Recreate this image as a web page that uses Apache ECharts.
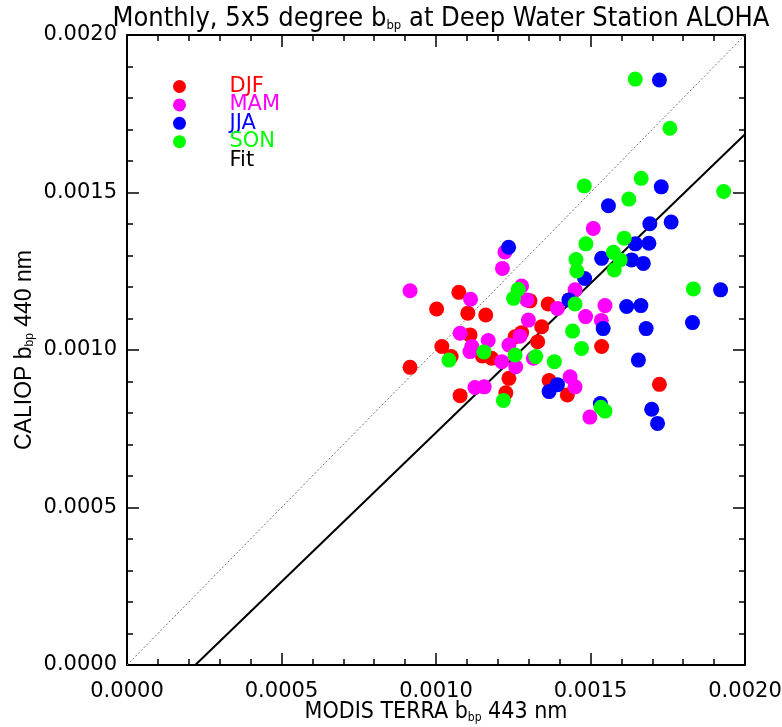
<!DOCTYPE html>
<html>
<head>
<meta charset="utf-8">
<script src="https://cdn.jsdelivr.net/npm/echarts@6/dist/echarts.min.js"></script>
<style>
  html, body { margin: 0; padding: 0; background: #fff; }
  #main { width: 782px; height: 727px; }
</style>
</head>
<body>
<div id="main"></div>
<script>
// seasonal points, MODIS (x) vs CALIOP (y) bbp
var djfX = [0.001074, 0.001002, 0.001103, 0.001161, 0.001304, 0.001363, 0.001342, 0.001329, 0.001110, 0.001019, 0.001049, 0.001150, 0.001180, 0.001256, 0.001277, 0.000916, 0.001236, 0.001366, 0.001425, 0.001078, 0.001226, 0.001536, 0.001723];
var djfY = [0.001183, 0.001130, 0.001117, 0.001111, 0.001156, 0.001146, 0.001074, 0.001026, 0.001048, 0.001011, 0.000979, 0.000981, 0.000974, 0.001042, 0.001055, 0.000945, 0.000910, 0.000903, 0.000857, 0.000855, 0.000864, 0.001011, 0.000891];

var mamX = [0.000916, 0.001112, 0.001215, 0.001223, 0.001277, 0.001294, 0.001393, 0.001450, 0.001299, 0.001078, 0.001169, 0.001116, 0.001110, 0.001213, 0.001236, 0.001272, 0.001258, 0.001315, 0.001434, 0.001450, 0.001126, 0.001156, 0.001509, 0.001547, 0.001484, 0.001535, 0.001498];
var mamY = [0.001188, 0.001161, 0.001259, 0.001311, 0.001203, 0.001159, 0.001132, 0.001191, 0.001095, 0.001053, 0.001030, 0.001011, 0.000995, 0.000963, 0.001016, 0.001044, 0.000947, 0.000974, 0.000915, 0.000883, 0.000881, 0.000883, 0.001386, 0.001141, 0.001106, 0.001094, 0.000787];

var jjaX = [0.001723, 0.001729, 0.001558, 0.001692, 0.001761, 0.001645, 0.001689, 0.001235, 0.001536, 0.001633, 0.001671, 0.001481, 0.001430, 0.001921, 0.001617, 0.001663, 0.001541, 0.001680, 0.001830, 0.001655, 0.001393, 0.001366, 0.001532, 0.001698, 0.001717];
var jjaY = [0.001857, 0.001518, 0.001458, 0.001401, 0.001406, 0.001337, 0.001339, 0.001326, 0.001291, 0.001286, 0.001275, 0.001227, 0.001159, 0.001191, 0.001138, 0.001141, 0.001068, 0.001068, 0.001087, 0.000968, 0.000890, 0.000868, 0.000830, 0.000812, 0.000767];

var sonX = [0.001645, 0.001757, 0.001480, 0.001664, 0.001931, 0.001624, 0.001609, 0.001485, 0.001574, 0.001596, 0.001577, 0.001453, 0.001456, 0.001833, 0.001266, 0.001251, 0.001450, 0.001442, 0.001471, 0.001323, 0.001383, 0.001256, 0.001042, 0.001155, 0.001218, 0.001534, 0.001547];
var sonY = [0.001860, 0.001704, 0.001521, 0.001545, 0.001503, 0.001479, 0.001355, 0.001337, 0.001310, 0.001286, 0.001254, 0.001287, 0.001251, 0.001194, 0.001193, 0.001164, 0.001146, 0.001060, 0.001005, 0.000979, 0.000963, 0.000984, 0.000968, 0.000994, 0.000840, 0.000818, 0.000806];

// fitted line ends and the 1:1 line
var fitX = [0.000221, 0.0020];
var fitY = [0.0, 0.001685];
var oneX = [0.0, 0.0020];
var oneY = [0.0, 0.0020];

function pairs(xs, ys) {
  return xs.map(function (x, i) { return [x, ys[i]]; });
}

var labelFont = "'DejaVu Sans', sans-serif";
var plainFont = "'Liberation Sans', Arial, sans-serif";
var narrowFont = "'Liberation Sans Narrow', 'DejaVu Sans Condensed', 'Roboto Condensed', Roboto, sans-serif";

var myChart = echarts.init(document.getElementById('main'));

function axisBase(extra) {
  var a = {
    type: 'value',
    min: 0,
    max: 0.002,
    interval: 0.0005,
    axisLine: { show: true, onZero: false, lineStyle: { color: '#000', width: 2 } },
    axisTick: { show: true, inside: true, length: 12, lineStyle: { color: '#000', width: 1.5 } },
    minorTick: { show: true, splitNumber: 5, length: 6, lineStyle: { color: '#000', width: 1.5 } },
    splitLine: { show: false }
  };
  for (var k in extra) a[k] = extra[k];
  return a;
}

var option = {
  animation: false,
  backgroundColor: '#fff',
  title: {
    text: 'Monthly, 5x5 degree b{sub|bp} at Deep Water Station ALOHA',
    left: 436,
    textAlign: 'center',
    top: 0,
    textStyle: {
      fontFamily: narrowFont,
      fontSize: 27,
      fontWeight: 'normal',
      color: '#000',
      rich: {
        sub: { fontFamily: narrowFont, fontSize: 13, verticalAlign: 'bottom', color: '#000' }
      }
    }
  },
  grid: { left: 127, right: 37, top: 35, bottom: 62, outerBoundsMode: 'none', containLabel: false },
  legend: {
    orient: 'vertical',
    left: 168,
    top: 71,
    itemWidth: 90,
    itemHeight: 13,
    itemGap: -2.6,
    textStyle: { fontFamily: labelFont, fontSize: 21 },
    data: [
      { name: 'DJF', textStyle: { color: '#ff0000' } },
      { name: 'MAM', textStyle: { color: '#ff00ff' } },
      { name: 'JJA', textStyle: { color: '#0000ff' } },
      { name: 'SON', textStyle: { color: '#00ff00' } },
      { name: 'Fit', icon: 'circle', itemStyle: { opacity: 0 }, textStyle: { color: '#000' } }
    ]
  },
  xAxis: [
    axisBase({
      position: 'bottom',
      name: 'MODIS TERRA b{sub|bp} 443 nm',
      nameLocation: 'middle',
      nameGap: 36,
      nameMoveOverlap: false,
      nameTextStyle: {
        fontFamily: narrowFont, fontSize: 23, color: '#000',
        rich: { sub: { fontFamily: narrowFont, fontSize: 12, verticalAlign: 'bottom', color: '#000' } }
      },
      axisLabel: {
        color: '#000', fontFamily: labelFont, fontSize: 21, margin: 16,
        formatter: function (v) { return v.toFixed(4); }
      }
    }),
    axisBase({ position: 'top', axisLabel: { show: false } })
  ],
  yAxis: [
    axisBase({
      position: 'left',
      name: 'CALIOP b{sub|bp} 440 nm',
      nameLocation: 'middle',
      nameGap: 91,
      nameMoveOverlap: false,
      nameRotate: 90,
      nameTextStyle: {
        fontFamily: plainFont, fontSize: 23, color: '#000',
        rich: { sub: { fontFamily: plainFont, fontSize: 12, verticalAlign: 'bottom', color: '#000' } }
      },
      axisLabel: {
        color: '#000', fontFamily: labelFont, fontSize: 21, margin: 10,
        formatter: function (v) { return v.toFixed(4); }
      }
    }),
    axisBase({ position: 'right', axisLabel: { show: false } })
  ],
  series: [
    {
      name: '1:1',
      type: 'line',
      data: pairs(oneX, oneY),
      symbol: 'none',
      lineStyle: { color: '#777', width: 1, type: [2, 2] },
      z: 1
    },
    {
      name: 'Fit',
      type: 'line',
      data: pairs(fitX, fitY),
      symbol: 'none',
      lineStyle: { color: '#000', width: 2 },
      z: 1
    },
    {
      name: 'DJF', type: 'scatter', data: pairs(djfX, djfY),
      symbolSize: 15, itemStyle: { color: '#ff0000', opacity: 1 }, z: 3
    },
    {
      name: 'MAM', type: 'scatter', data: pairs(mamX, mamY),
      symbolSize: 15, itemStyle: { color: '#ff00ff', opacity: 1 }, z: 3
    },
    {
      name: 'JJA', type: 'scatter', data: pairs(jjaX, jjaY),
      symbolSize: 15, itemStyle: { color: '#0000ff', opacity: 1 }, z: 3
    },
    {
      name: 'SON', type: 'scatter', data: pairs(sonX, sonY),
      symbolSize: 15, itemStyle: { color: '#00ff00', opacity: 1 }, z: 3
    }
  ]
};

option && myChart.setOption(option);
</script>
</body>
</html>
